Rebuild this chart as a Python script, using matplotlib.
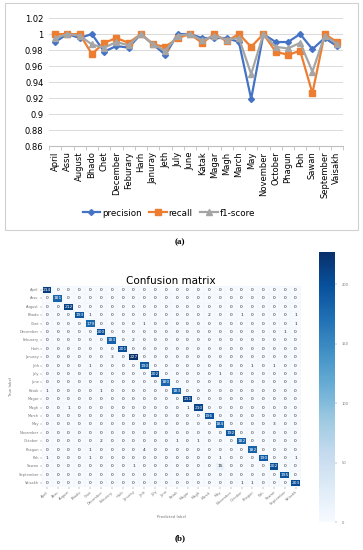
import numpy as np
import matplotlib.pyplot as plt
import seaborn as sns
from matplotlib.patches import Rectangle

months = ['April', 'Assu', 'August', 'Bhado', 'Chet', 'December', 'Feburary', 'Harh',
          'Januray', 'Jeth', 'July', 'June', 'Katak', 'Magar', 'Magh', 'March', 'May',
          'November', 'October', 'Phagun', 'Poh', 'Sawan', 'September', 'Vaisakh']

# per-class scores
precision = [0.990, 1.000, 0.995, 1.000, 0.978, 0.985, 0.983, 1.000, 0.987, 0.974, 1.000, 1.000,
             0.995, 0.995, 0.995, 0.990, 0.919, 1.000, 0.990, 0.990, 1.000, 0.981, 0.995, 0.985]
recall = [1.000, 1.000, 1.000, 0.975, 0.989, 0.995, 0.989, 1.000, 0.987, 0.984, 0.995, 1.000,
          0.989, 1.000, 0.991, 1.000, 0.984, 1.000, 0.978, 0.974, 0.979, 0.926, 1.000, 0.990]
f1_score = [0.995, 1.000, 0.998, 0.987, 0.983, 0.990, 0.986, 1.000, 0.987, 0.979, 0.998, 1.000,
            0.992, 0.998, 0.993, 0.995, 0.950, 1.000, 0.984, 0.982, 0.989, 0.953, 0.998, 0.988]

# confusion matrix of panel (b): diagonal counts + the few off-diagonal cells
diag_counts = [214, 181, 212, 193, 179, 200, 183, 201, 227, 190, 202, 180,
               183, 211, 210, 196, 184, 192, 182, 182, 190, 202, 195, 203]
off_diag = [(3, 4, 1), (3, 15, 2), (3, 18, 1), (3, 23, 1),
            (4, 9, 1), (4, 23, 1),
            (5, 22, 1),
            (6, 8, 2),
            (8, 6, 3),
            (9, 4, 1), (9, 19, 1), (9, 21, 1),
            (10, 16, 1),
            (12, 0, 1), (12, 5, 1),
            (14, 2, 1), (14, 13, 1),
            (16, 21, 3),
            (18, 5, 2), (18, 12, 1), (18, 14, 1),
            (19, 4, 1), (19, 9, 4),
            (20, 0, 1), (20, 4, 1), (20, 16, 1), (20, 23, 1),
            (21, 8, 1), (21, 16, 15),
            (23, 18, 1), (23, 19, 1)]

cm = np.diag(diag_counts)
for r, c, v in off_diag:
    cm[r, c] = v

fig = plt.figure(figsize=(3.63, 5.5), dpi=100)

# ---- panel (a): excel-looking line chart ----
fig.patches.append(Rectangle((5 / 363, 1 - 230 / 550), 353 / 363, 227 / 550,
                             transform=fig.transFigure, fill=False,
                             edgecolor='#d0d0d0', lw=0.8))

ax1 = fig.add_axes([0.135, 0.7345, 0.81, 0.2327])
x = np.arange(len(months))
ax1.plot(x, precision, color='#4472C4', marker='D', ms=3, lw=1.6, label='precision')
ax1.plot(x, recall, color='#ED7D31', marker='s', ms=4.2, lw=1.6, label='recall')
ax1.plot(x, f1_score, color='#A5A5A5', marker='^', ms=4, lw=1.6, label='f1-score')
ax1.set_ylim(0.86, 1.02)
ax1.set_yticks(np.arange(0.86, 1.021, 0.02))
ax1.set_yticklabels(['0.86', '0.88', '0.9', '0.92', '0.94', '0.96', '0.98', '1', '1.02'])
ax1.set_xlim(-0.5, len(months) - 0.5)
ax1.set_xticks(x)
ax1.set_xticklabels(months, rotation=90, fontsize=6)
ax1.set_xticks(np.arange(-0.5, len(months)), minor=True)
ax1.tick_params(axis='x', which='major', length=0, pad=4)
ax1.tick_params(axis='x', which='minor', length=3, color='#bfbfbf')
ax1.tick_params(axis='y', length=0, labelsize=6, pad=4)
ax1.grid(axis='y', color='#d9d9d9', lw=0.7)
ax1.set_axisbelow(True)
for s in ['top', 'right', 'left']:
    ax1.spines[s].set_visible(False)
ax1.spines['bottom'].set_color('#bfbfbf')
fig.legend(loc='center', bbox_to_anchor=(0.465, 0.6127), ncol=3, frameon=False,
           fontsize=6.3, handlelength=2.0, columnspacing=0.9, handletextpad=0.2)
fig.text(0.496, 0.56, '(a)', ha='center', va='center', fontsize=6.5,
         family='Liberation Serif', fontweight='bold')

# ---- panel (b): confusion matrix ----
ax2 = fig.add_axes([0.1146, 0.1138, 0.7146, 0.3666])
cax = fig.add_axes([0.879, 0.0509, 0.044, 0.491])
sns.heatmap(cm, annot=True, fmt='d', cmap='Blues', vmin=0, vmax=227, ax=ax2, cbar_ax=cax,
            linewidths=0.3, linecolor='#f4f8fc', annot_kws={'size': 3.2},
            xticklabels=months, yticklabels=months)
ax2.set_title('Confusion matrix', fontsize=7.5, pad=1.5)
ax2.tick_params(axis='both', labelsize=2.6, length=1.2, width=0.3, pad=0.8,
                colors='#777777')
plt.setp(ax2.get_xticklabels(), rotation=40, ha='right', rotation_mode='anchor')
plt.setp(ax2.get_yticklabels(), rotation=0)
ax2.set_xlabel('Predicted label', fontsize=2.8, color='#777777', labelpad=6)
ax2.set_ylabel('True label', fontsize=2.8, color='#777777', labelpad=4)
cax.tick_params(labelsize=2.6, length=1.2, width=0.3, colors='#777777')
cax.set_yticks([0, 50, 100, 150, 200])
for s in cax.spines.values():
    s.set_visible(False)
fig.text(0.496, 0.0218, '(b)', ha='center', va='center', fontsize=6.5,
         family='Liberation Serif', fontweight='bold')

fig.savefig('out.png', dpi=100)
